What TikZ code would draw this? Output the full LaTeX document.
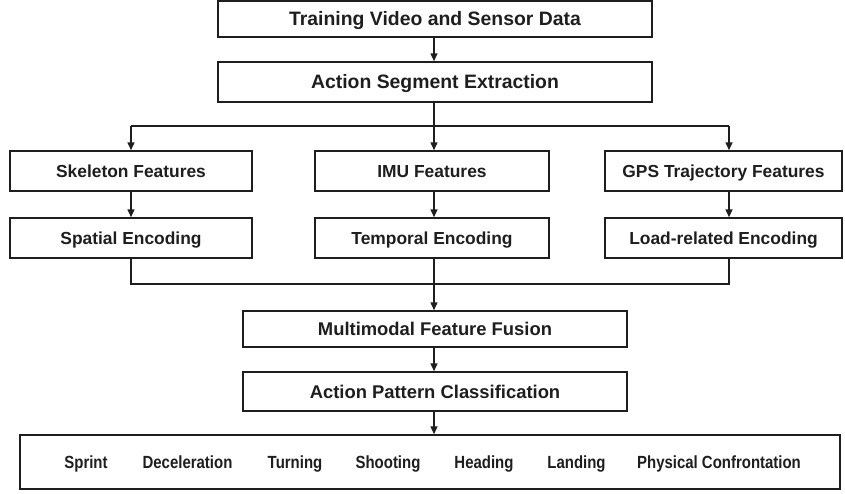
\documentclass[tikz,border=0pt]{standalone}
\usepackage{fontspec}
\setmainfont{Liberation Sans}
\usetikzlibrary{arrows.meta}
\definecolor{ink}{HTML}{1E1E1E}
\begin{document}
\begin{tikzpicture}[x=1pt,y=-1pt,
  box/.style={draw=ink,line width=1.5pt,fill=white,inner sep=0pt,
    text=ink,text depth=0pt,text height=12.5pt,
    font=\fontsize{17.4}{20}\selectfont\bfseries},
  bigbox/.style={box,text height=13.9pt,font=\fontsize{19.4}{22}\selectfont\bfseries},
  midbox/.style={box,text height=13.2pt,font=\fontsize{18.4}{21}\selectfont\bfseries},
  item/.style={inner sep=0pt,anchor=base,text=ink,font=\fontsize{17.6}{20}\selectfont\bfseries},
  link/.style={draw=ink,line width=1.5pt},
  arr/.style={link,-{Triangle[length=8pt,width=7pt]}}]
\useasboundingbox (0,0) rectangle (845,493);
\fill[white] (0,0) rectangle (845,493);
\newcommand{\narrow}[1]{\scalebox{0.85}[1]{#1}}

% main pipeline boxes
\node[bigbox,minimum width=434pt,minimum height=36pt] (src) at (435,19) {Training Video and Sensor Data};
\node[bigbox,minimum width=434pt,minimum height=40pt] (seg) at (435,82) {Action Segment Extraction};

% three modality branches
\node[box,minimum width=242pt,minimum height=40pt] (skel) at (131,171) {Skeleton Features};
\node[box,minimum width=234pt,minimum height=40pt] (imu)  at (432,171) {IMU Features};
\node[box,minimum width=237pt,minimum height=40pt] (gps)  at (723.5,171) {GPS Trajectory Features};
\node[box,minimum width=242pt,minimum height=40pt] (spat) at (131,238) {Spatial Encoding};
\node[box,minimum width=234pt,minimum height=40pt] (temp) at (432,238) {Temporal Encoding};
\node[box,minimum width=237pt,minimum height=40pt] (load) at (723.5,238) {Load-related Encoding};

% fusion and classification
\node[midbox,minimum width=384pt,minimum height=36pt] (fuse) at (435,329) {Multimodal Feature Fusion};
\node[midbox,minimum width=384pt,minimum height=39pt] (cls)  at (435,391.5) {Action Pattern Classification};
\node[box,minimum width=820pt,minimum height=54pt] (out)  at (430,462) {};

% action categories
\node[item] (a1) at (86,468)  {\narrow{Sprint}};
\node[item] (a2) at (187.5,468) {\narrow{Deceleration}};
\node[item] (a3) at (295,468) {\narrow{Turning}};
\node[item] (a4) at (388,468) {\narrow{Shooting}};
\node[item] (a5) at (484,468) {\narrow{Heading}};
\node[item] (a6) at (576.5,468) {\narrow{Landing}};
\node[item] (a7) at (719,468) {\narrow{Physical Confrontation}};

% helper points for the splitter and merger
\coordinate (c) at (434,0);
\coordinate (split) at (434,126);
\coordinate (sl) at (131,126);
\coordinate (sr) at (729,126);
\coordinate (merge) at (434,284);
\coordinate (ml) at (131,284);
\coordinate (mr) at (729,284);

% connectors
\draw[arr] (src.south -| c) -- (seg.north -| c);
\draw[link] (seg.south -| c) -- (split);
\draw[link] (sl) -- (sr);
\draw[arr] (sl) -- (skel.north -| sl);
\draw[arr] (split) -- (imu.north -| split);
\draw[arr] (sr) -- (gps.north -| sr);
\draw[arr] (skel.south -| sl) -- (spat.north -| sl);
\draw[arr] (imu.south -| c) -- (temp.north -| c);
\draw[arr] (gps.south -| sr) -- (load.north -| sr);
\draw[link] (spat.south -| sl) -- (ml) -- (mr) -- (load.south -| mr);
\draw[link] (temp.south -| c) -- (merge);
\draw[arr] (merge) -- (fuse.north -| c);
\draw[arr] (fuse.south -| c) -- (cls.north -| c);
\draw[arr] (cls.south -| c) -- (out.north -| c);
\end{tikzpicture}
\end{document}
